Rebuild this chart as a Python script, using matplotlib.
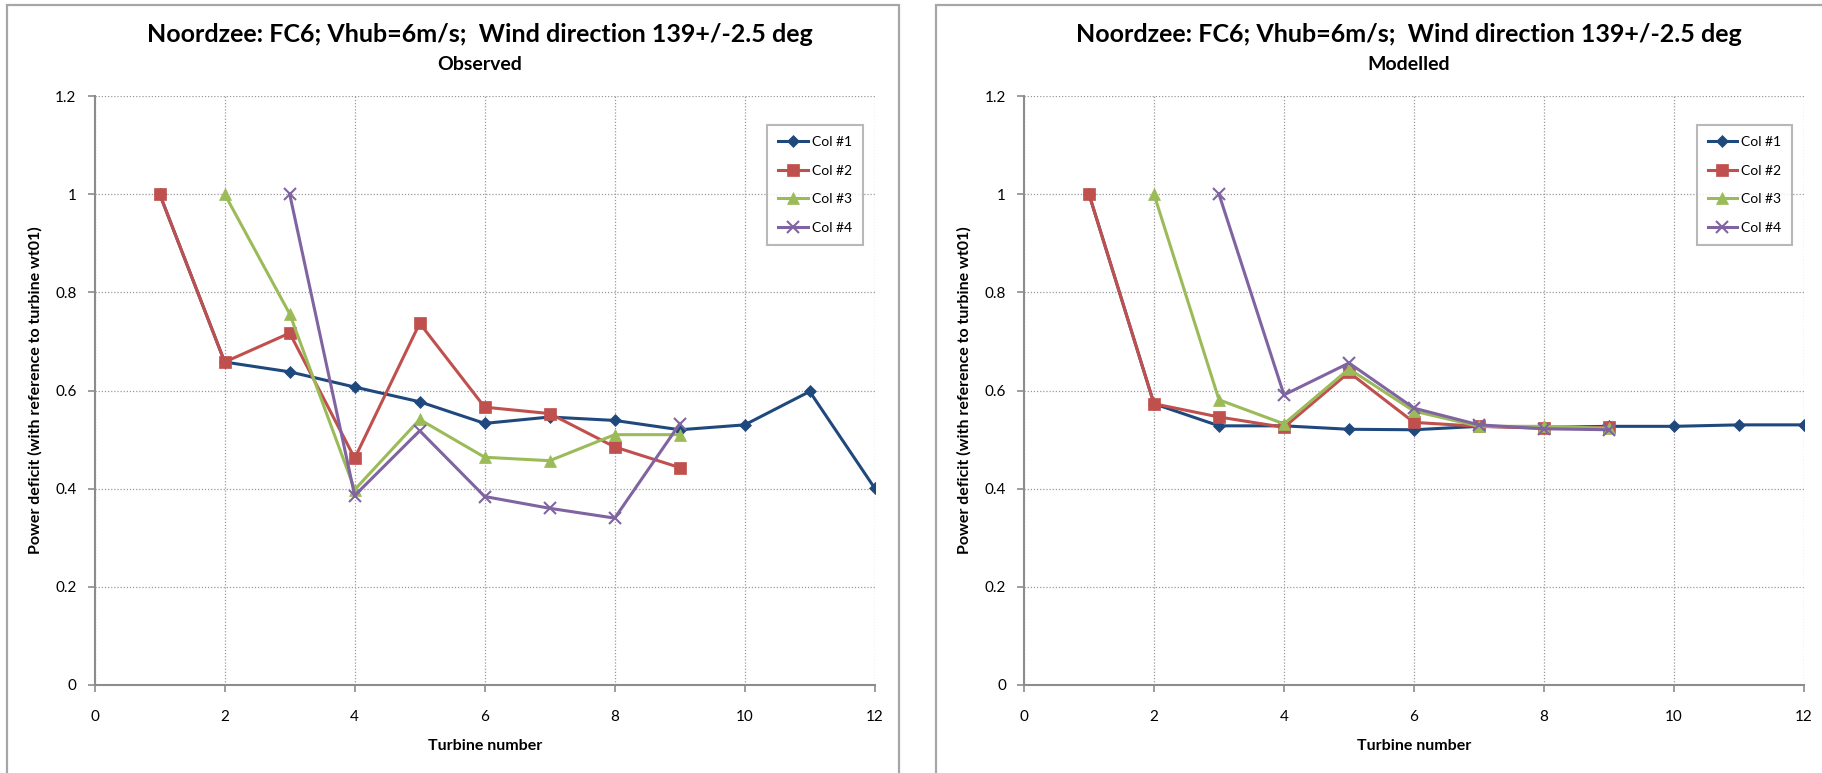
import matplotlib
matplotlib.use('Agg')
import matplotlib.pyplot as plt
from matplotlib.patches import Rectangle

plt.rcParams['font.family'] = ['Lato', 'DejaVu Sans']

# ── data ──
TITLE = 'Noordzee: FC6; Vhub=6m/s;  Wind direction 139+/-2.5 deg'
SERIES = ['Col #1', 'Col #2', 'Col #3', 'Col #4']

# Observed
obs_x1 = [1, 2, 3, 4, 5, 6, 7, 8, 9, 10, 11, 12]
obs_y1 = [1.0, 0.658, 0.638, 0.607, 0.577, 0.533, 0.546, 0.539, 0.520, 0.530, 0.598, 0.401]
obs_x2 = [1, 2, 3, 4, 5, 6, 7, 8, 9]
obs_y2 = [1.0, 0.658, 0.717, 0.462, 0.737, 0.566, 0.553, 0.485, 0.443]
obs_x3 = [2, 3, 4, 5, 6, 7, 8, 9]
obs_y3 = [1.0, 0.756, 0.398, 0.541, 0.464, 0.457, 0.510, 0.510]
obs_x4 = [3, 4, 5, 6, 7, 8, 9]
obs_y4 = [1.0, 0.386, 0.518, 0.384, 0.360, 0.340, 0.532]

# Modelled
mod_x1 = [1, 2, 3, 4, 5, 6, 7, 8, 9, 10, 11, 12]
mod_y1 = [1.0, 0.573, 0.528, 0.528, 0.521, 0.520, 0.527, 0.525, 0.527, 0.527, 0.530, 0.530]
mod_x2 = [1, 2, 3, 4, 5, 6, 7, 8, 9]
mod_y2 = [1.0, 0.573, 0.546, 0.525, 0.637, 0.535, 0.527, 0.523, 0.525]
mod_x3 = [2, 3, 4, 5, 6, 7, 8, 9]
mod_y3 = [1.0, 0.581, 0.532, 0.644, 0.558, 0.527, 0.527, 0.523]
mod_x4 = [3, 4, 5, 6, 7, 8, 9]
mod_y4 = [1.0, 0.591, 0.656, 0.564, 0.530, 0.522, 0.520]

COLORS = ['#1F497D', '#C0504D', '#9BBB59', '#8064A2']
MARKERS = ['D', 's', '^', 'x']
MSIZES = [6, 8.5, 8.5, 8]

fig = plt.figure(figsize=(18.22, 7.73), dpi=100)
W, H = 1822, 773

# panel frames
for (x0, x1) in [(7, 899), (936, 1830)]:
    fig.patches.append(Rectangle((x0 / W, -0.05), (x1 - x0) / W, 1.05 - 5 / H,
                                 transform=fig.transFigure, fill=False,
                                 edgecolor='#A6A6A6', linewidth=1.6))


def draw(ax, xs, ys, subtitle, xc):
    for x, y, lab, c, m, ms in zip(xs, ys, SERIES, COLORS, MARKERS, MSIZES):
        ax.plot(x, y, color=c, marker=m, markersize=ms, linewidth=2.2,
                markeredgewidth=1.5 if m == 'x' else 0.5, label=lab,
                markeredgecolor=c)
    ax.set_xlim(0, 12)
    ax.set_ylim(0, 1.2)
    ax.set_xticks(range(0, 13, 2))
    ax.set_yticks([0, 0.2, 0.4, 0.6, 0.8, 1.0, 1.2])
    ax.set_yticklabels(['0', '0.2', '0.4', '0.6', '0.8', '1', '1.2'])
    ax.grid(True, color='#9A9A9A', linestyle=(0, (1, 1.5)), linewidth=0.9)
    ax.set_axisbelow(True)
    for s in ['top', 'right']:
        ax.spines[s].set_visible(False)
    for s in ['left', 'bottom']:
        ax.spines[s].set_color('#8C8C8C')
        ax.spines[s].set_linewidth(1.5)
    ax.tick_params(length=5, width=1.2, color='#8C8C8C', labelsize=11)
    ax.tick_params(axis='x', pad=13)
    ax.tick_params(axis='y', pad=8)
    ax.set_xlabel('Turbine number', fontsize=11.5, fontweight='bold', labelpad=11)
    ax.set_ylabel('Power deficit (with reference to turbine wt01)', fontsize=11.5,
                  fontweight='bold', labelpad=9)
    leg = ax.legend(loc='upper right', bbox_to_anchor=(0.985, 0.951), fontsize=10,
                    frameon=True, fancybox=False, edgecolor='#A6A6A6',
                    borderpad=0.8, labelspacing=1.2, handlelength=2.1,
                    handletextpad=0.3, borderaxespad=0)
    leg.get_frame().set_linewidth(1.5)
    fig.text(xc, 1 - 35 / H, TITLE, ha='center', va='center', fontsize=18,
             fontweight='bold')
    fig.text(xc, 1 - 64 / H, subtitle, ha='center', va='center', fontsize=14,
             fontweight='bold')


ax1 = fig.add_axes([94.7 / W, 1 - 685 / H, 780 / W, 589 / H])
ax2 = fig.add_axes([1024 / W, 1 - 685 / H, 780 / W, 589 / H])

draw(ax1, [obs_x1, obs_x2, obs_x3, obs_x4], [obs_y1, obs_y2, obs_y3, obs_y4],
     'Observed', 480 / W)
draw(ax2, [mod_x1, mod_x2, mod_x3, mod_x4], [mod_y1, mod_y2, mod_y3, mod_y4],
     'Modelled', 1409 / W)

plt.savefig('out.png', dpi=100)
